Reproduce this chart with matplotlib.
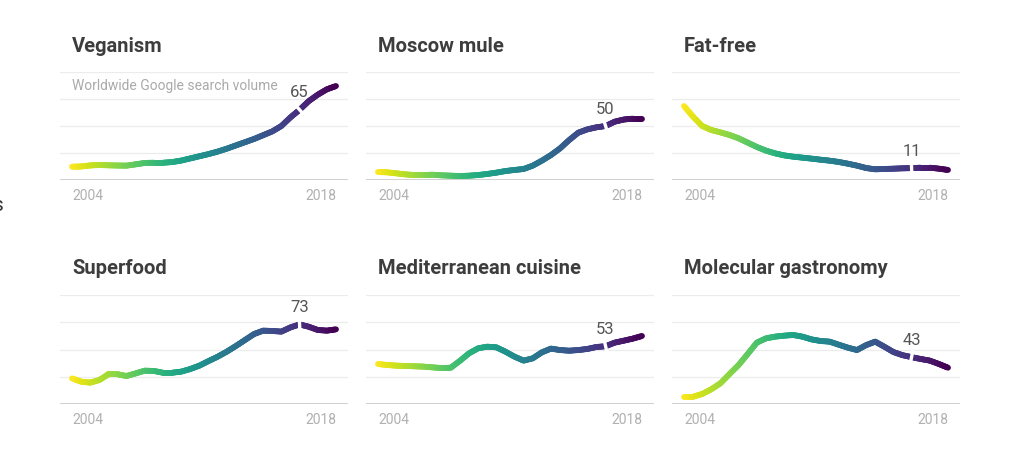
import numpy as np
import matplotlib
matplotlib.use("Agg")
import matplotlib.pyplot as plt
from matplotlib.collections import LineCollection

plt.rcParams["font.family"] = ["Roboto", "DejaVu Sans"]

# half-year steps, Jan 2004 .. mid 2018
years = np.arange(2004, 2019, 0.5)

titles = ["Veganism", "Moscow mule", "Fat-free",
          "Superfood", "Mediterranean cuisine", "Molecular gastronomy"]

veganism = [12.3, 12.5, 13.5, 13.9, 13.6, 13.4, 13.3, 14.5, 15.8, 16.0,
            16.0, 16.6, 18.0, 20.0, 22.0, 24.0, 26.3, 29.0, 32.0, 35.0,
            38.0, 41.5, 45.0, 50.0, 58.0, 65.0, 73.0, 79.0, 84.0, 87.0]
moscow_mule = [7.4, 7.1, 6.2, 5.2, 4.6, 4.6, 4.9, 4.3, 4.0, 3.7,
               4.0, 4.6, 5.6, 6.8, 8.3, 9.3, 10.2, 13.3, 17.9, 23.1,
               29.3, 37.0, 43.8, 46.9, 48.8, 50.0, 54.0, 56.0, 56.8, 56.8]
fat_free = [68.5, 58.6, 50.0, 46.3, 44.1, 41.7, 38.6, 34.6, 30.6, 27.2,
            24.7, 22.8, 21.6, 20.7, 19.8, 18.8, 17.9, 16.7, 15.1, 13.3,
            11.1, 9.9, 10.2, 10.5, 10.8, 11.0, 11.4, 11.4, 10.5, 9.3]
superfood = [23.5, 20.5, 19.6, 22.0, 27.2, 27.2, 25.7, 28.1, 30.6, 30.3,
             28.7, 28.7, 29.7, 32.1, 35.2, 39.4, 43.4, 48.0, 53.2, 58.7,
             64.2, 67.3, 67.0, 66.4, 70.3, 73.0, 70.9, 67.9, 67.3, 68.5]
mediterranean = [36.7, 35.8, 35.2, 34.9, 34.6, 34.3, 33.6, 33.0, 33.3, 39.6,
                 46.5, 51.1, 52.6, 52.0, 48.0, 43.4, 39.8, 41.9, 47.4, 50.8,
                 49.5, 48.9, 49.5, 50.5, 52.3, 53.0, 56.3, 58.1, 60.0, 62.4]
molecular = [6.7, 6.7, 9.2, 13.5, 19.0, 27.5, 35.8, 45.9, 56.3, 60.2,
             61.8, 62.7, 63.3, 61.8, 59.3, 57.8, 57.2, 54.4, 51.7, 49.5,
             54.0, 57.2, 52.6, 47.7, 44.8, 43.0, 41.3, 39.8, 36.7, 33.3]

series = [veganism, moscow_mule, fat_free, superfood, mediterranean, molecular]
label_values = [65, 50, 11, 73, 53, 43]
label_year = 2016.5
grid_values = [25, 50, 75, 100]

W, H = 1024, 472
fig = plt.figure(figsize=(W / 100, H / 100), dpi=100)

col_left = [60, 366, 672]
row_base = [180, 404]
row_top = [72, 295]
panel_w = 288
pad_years = 12 / (264 / 14.5)

cmap = plt.get_cmap("viridis_r")


def gradient_line(ax, xs, ys):
    xs = np.asarray(xs, float)
    ys = np.asarray(ys, float)
    segs, cols = [], []
    sub = 8  # split each piece so the colour ramp looks continuous
    for i in range(len(xs) - 1):
        for k in range(sub):
            t0, t1 = k / sub, (k + 1) / sub
            a = (xs[i] + (xs[i + 1] - xs[i]) * t0, ys[i] + (ys[i + 1] - ys[i]) * t0)
            b = (xs[i] + (xs[i + 1] - xs[i]) * t1, ys[i] + (ys[i + 1] - ys[i]) * t1)
            segs.append([a, b])
            cols.append(cmap(((a[0] + b[0]) / 2 - xs[0]) / (xs[-1] - xs[0])))
    lc = LineCollection(segs, colors=cols, linewidths=4.2, capstyle="round",
                        joinstyle="round", zorder=3, clip_on=False)
    ax.add_collection(lc)


def draw_gap(ax, xs, ys, i):
    # short white cut across the line where the value label sits
    p0 = ax.transData.transform((xs[i - 1], ys[i - 1]))
    p1 = ax.transData.transform((xs[i + 1], ys[i + 1]))
    d = p1 - p0
    d = d / np.hypot(*d)
    n = np.array([-d[1], d[0]])
    c = ax.transData.transform((xs[i], ys[i]))
    pts = ax.transData.inverted().transform([c - n * 7, c + n * 7])
    ax.plot(pts[:, 0], pts[:, 1], color="white", lw=2.4,
            solid_capstyle="butt", zorder=4, clip_on=False)


for idx, (title, ys) in enumerate(zip(titles, series)):
    r, c = divmod(idx, 3)
    left = col_left[c]
    ax = fig.add_axes([left / W, 1 - row_base[r] / H, panel_w / W,
                       (row_base[r] - row_top[r]) / H])
    ax.set_xlim(years[0] - pad_years, years[-1] + pad_years)
    ax.set_ylim(0, 100)
    ax.set_axis_off()

    for g in grid_values:
        ax.axhline(g, color="#ececec", lw=0.9, zorder=1)
    ax.axhline(0, color="#cdcdcd", lw=1.3, zorder=1)

    gradient_line(ax, years, ys)
    gi = int(np.argmin(np.abs(years - label_year)))
    draw_gap(ax, years, ys, gi)
    ax.annotate(str(label_values[idx]), (years[gi], ys[gi]),
                xytext=(0, 9), textcoords="offset points",
                ha="center", va="baseline", fontsize=12, color="#555555")

    tr = ax.get_xaxis_transform()
    ax.text(years[0], 1.24, title, transform=tr, ha="left", va="center",
            fontsize=14.5, fontweight="bold", color="#3d3d3d")
    ax.text(years[0], -0.15, "2004", transform=tr, ha="left", va="center",
            fontsize=10, color="#b0b0b0")
    ax.text(years[-1], -0.15, "2018", transform=tr, ha="right", va="center",
            fontsize=10, color="#b0b0b0")
    if idx == 0:
        ax.text(years[0], 0.87, "Worldwide Google search volume", transform=tr,
                ha="left", va="center", fontsize=10, color="#aaaaaa")

# cut-off glyph at the left edge of the source page
fig.text(4 / W, 1 - 205 / H, "s", ha="right", va="center",
         fontsize=15, color="#333333")

fig.savefig("out.png", dpi=100, facecolor="white")
